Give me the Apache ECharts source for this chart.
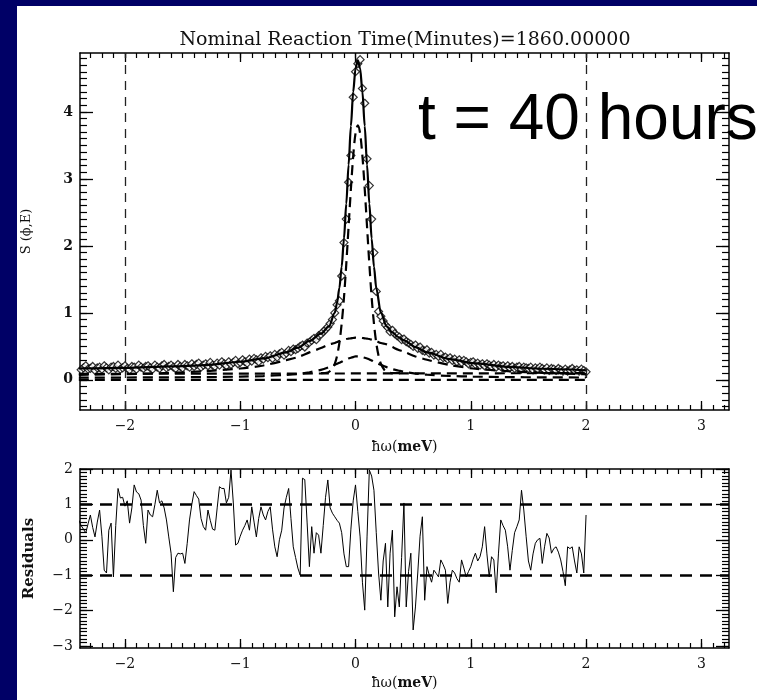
<!DOCTYPE html>
<html><head><meta charset="utf-8">
<script src="https://cdn.jsdelivr.net/npm/echarts@6/dist/echarts.min.js"></script>
<style>html,body{margin:0;padding:0;background:#000066}#c{width:757px;height:700px}</style>
</head><body><div id="c"></div>
<script>
// ---------- DATA ----------
const TITLE = 'Nominal Reaction Time(Minutes)=1860.00000';
const ANNOT = 't = 40 hours';
const X_MAJOR = [-2, -1, 0, 1, 2, 3];
const Y_TOP_MAJOR = [0, 1, 2, 3, 4];
const Y_BOT_MAJOR = [-3, -2, -1, 0, 1, 2];
const VLINES = [-2, 2];
const RES_LEVELS = [1, -1];

// energy bins of data / residuals: start and bin width (meV)
const E_START = -2.40, E_STEP = 0.02;

// measured S(phi,E) (diamonds)
const sData = [
 .19,.15,.18,.21,.16, .17,.20,.14,.18,.19, .16,.21,.18,.15,.19, .20,.17,.22,.16,.18,
 .21,.17,.15,.20,.19, .16,.22,.19,.17,.20, .21,.18,.16,.22,.19, .17,.21,.23,.18,.20,
 .22,.19,.17,.23,.20, .18,.23,.21,.19,.24, .20,.23,.25,.19,.22, .24,.21,.26,.22,.20,
 .25,.22,.27,.24,.21, .27,.23,.26,.29,.24, .26,.30,.27,.25,.31, .28,.32,.30,.27,.33,
 .31,.35,.33,.36,.32, .38,.34,.39,.41,.37, .40,.44,.42,.46,.45, .47,.50,.52,.49,.55,
 .56,.59,.62,.60,.66, .68,.72,.75,.79,.84,
 .90,1.00,1.12,1.18,1.55,2.05,2.40,2.95,3.35,4.22,4.60,4.72,4.78,4.35,4.13,3.30,2.90,2.40,1.90,1.32,1.02,.95,.88,.82,.78,.72,
 .74,.69,.66,.64,.60, .61,.57,.55,.53,.50, .52,.47,.49,.44,.43, .45,.40,.41,.37,.38,
 .35,.38,.33,.34,.31, .33,.29,.31,.27,.30, .26,.29,.27,.24,.26, .27,.23,.25,.22,.24,
 .21,.24,.22,.20,.23, .19,.22,.20,.21,.18, .21,.18,.20,.17,.19, .20,.16,.19,.18,.17,
 .19,.15,.18,.16,.19, .17,.15,.18,.14,.17, .16,.14,.17,.15,.13, .16,.13,.15,.17,.14,
 .15,.13,.16,.14,.12
];

// residuals
const resid = [
 0.55,0.40,0.30,0.19,0.45, 0.70,0.35,0.08,0.50,0.84, 0.10,-0.86,-0.94,0.27,0.47,
 -1.05,0.40,1.45,1.18,1.20, 0.95,1.10,0.47,0.90,1.55, 1.35,1.30,1.12,0.40,-0.10,
 0.84,0.70,0.65,1.00,1.40, 1.04,1.10,0.90,0.56,0.08, -0.38,-1.47,-0.50,-0.38,-0.40,
 -0.38,-0.67,-0.10,0.56,1.00, 1.36,1.25,1.15,0.60,0.37, 0.27,0.84,0.55,0.30,0.27,
 0.90,1.50,1.45,1.45,1.04, 1.20,1.97,1.04,-0.15,-0.10, 0.10,0.27,0.40,0.56,0.27,
 0.93,0.50,0.08,0.60,0.93, 0.70,0.56,0.80,0.93,0.30, -0.20,-0.48,0.00,0.27,0.90,
 1.20,1.45,0.60,-0.20,-0.50, -0.80,-1.00,1.74,1.70,0.50, -0.76,0.37,-0.38,0.20,0.13,
 -0.38,0.40,1.20,1.69,0.90, 0.75,0.65,0.55,0.47,0.20, -0.40,-0.76,-0.76,0.30,1.10,
 1.55,0.80,0.08,-1.20,-1.99, 0.08,1.97,1.80,1.40,0.20, -0.94,-1.71,-0.60,-0.10,-1.90,
 -0.38,0.27,-2.18,-1.33,-1.90, -0.50,1.04,-1.90,-0.90,-0.38, -2.55,-1.90,-0.94,0.10,0.65,
 -1.71,-0.76,-1.00,-1.20,-0.86, -0.95,-1.05,-0.57,-0.70,-0.86, -1.80,-1.20,-0.86,-0.94,-1.10,
 -1.20,-0.57,-0.80,-1.05,-0.90, -0.76,-0.55,-0.38,-0.60,-0.48, -0.20,0.37,-0.40,-1.05,-0.48,
 -0.57,-1.50,-0.40,0.56,0.40, 0.27,-0.20,-0.86,-0.30,0.20, 0.37,0.56,1.40,0.84,0.10,
 -0.60,-0.86,-0.40,-0.10,0.00, 0.04,-0.67,-0.20,0.18,0.05, -0.38,-0.25,-0.20,-0.35,-0.57,
 -0.90,-1.30,-0.20,-0.25,-0.20, -0.60,-0.94,-0.20,-0.40,-0.94, 0.70
];

// fit and component curves
const curveE = [-2.4,-2.0,-1.6,-1.3,-1.0,-0.8,-0.6,-0.5,-0.4,-0.3,-0.23,-0.18,-0.16,-0.14,-0.12,-0.10,-0.08,-0.06,-0.04,-0.02,0,0.02,0.04,0.06,0.08,0.10,0.12,0.14,0.16,0.18,0.22,0.27,0.32,0.37,0.42,0.52,0.62,0.82,1.02,1.32,1.62,2.0];
const fitTotal = [.17,.18,.20,.22,.27,.32,.41,.48,.58,.69,.80,1.00,1.15,1.37,1.69,2.11,2.63,3.21,3.79,4.30,4.65,4.77,4.65,4.30,3.79,3.21,2.63,2.11,1.69,1.37,1.00,.80,.71,.64,.59,.49,.41,.31,.25,.195,.166,.143];
const compBroad = [.075,.085,.105,.13,.17,.215,.295,.34,.41,.475,.53,.55,.565,.58,.59,.60,.61,.615,.62,.625,.63,.63,.63,.625,.62,.615,.61,.60,.59,.58,.55,.53,.49,.45,.42,.35,.30,.22,.17,.13,.105,.085];
const compMedium = [.033,.035,.038,.041,.048,.057,.075,.088,.114,.15,.19,.225,.24,.255,.27,.29,.305,.32,.33,.34,.35,.35,.35,.34,.33,.32,.305,.29,.27,.255,.225,.19,.16,.14,.12,.094,.077,.058,.049,.041,.038,.035];
const narrowE = [-0.30,-0.24,-0.20,-0.18,-0.16,-0.14,-0.12,-0.10,-0.08,-0.06,-0.04,-0.02,0,0.02,0.04,0.06,0.08,0.10,0.12,0.14,0.16,0.18,0.20,0.22,0.26,0.32,0.40];
const compNarrow = [.10,.11,.17,.24,.36,.55,.84,1.23,1.73,2.29,2.85,3.34,3.68,3.80,3.68,3.34,2.85,2.29,1.73,1.23,.84,.55,.36,.24,.13,.10,.10];
const bgE = [-2.4, 2.0];
const bgHigh = [0.09, 0.10];
const bgLow = [0.0, 0.0];

// ---------- CHART ----------
const X_MIN = -2.39, X_MAX = 3.24;
const YT_MIN = -0.45, YT_MAX = 4.88;
const YB_MIN = -3.06, YB_MAX = 2.0;

const dataE = sData.map((_, i) => +(E_START + i * E_STEP).toFixed(2));
const pairs = (xs, ys) => xs.map((x, i) => [x, ys[i]]);
const steps = (a, b, s) => { const r = []; for (let v = a; v <= b + 1e-9; v += s) r.push(Math.round(v * 10) / 10); return r; };
const fmt = v => v < 0 ? '\u2212' + (-v) : String(v);

const SERIF = '"DejaVu Serif", "Liberation Serif", serif';
const AX_LINE = { show: true, onZero: false, lineStyle: { color: '#000', width: 1.5 } };
const NO_LINE = { show: false, onZero: false };

function xAxesFor(gi, name, nameGap) {
  const base = { type: 'value', gridIndex: gi, min: X_MIN, max: X_MAX, splitLine: { show: false } };
  const minor = steps(-2.3, 3.2, 0.1);
  return [
    Object.assign({}, base, { position: 'bottom', axisLine: AX_LINE,
      axisTick: { show: true, inside: true, length: 9, customValues: X_MAJOR, lineStyle: { color: '#000', width: 1.3 } },
      axisLabel: { show: true, customValues: X_MAJOR, formatter: fmt, color: '#111', fontFamily: SERIF, fontSize: 14, margin: 9 },
      name: name, nameLocation: 'middle', nameGap: nameGap,
      nameTextStyle: { rich: { a: { fontFamily: SERIF, fontSize: 14, color: '#111' }, b: { fontFamily: SERIF, fontSize: 14, fontWeight: 'bold', color: '#111' } } } }),
    Object.assign({}, base, { position: 'bottom', axisLine: NO_LINE,
      axisTick: { show: true, inside: true, length: 5, customValues: minor, lineStyle: { color: '#000', width: 1.2 } },
      axisLabel: { show: false } }),
    Object.assign({}, base, { position: 'top', axisLine: AX_LINE,
      axisTick: { show: true, inside: true, length: 9, customValues: X_MAJOR, lineStyle: { color: '#000', width: 1.3 } },
      axisLabel: { show: false } }),
    Object.assign({}, base, { position: 'top', axisLine: NO_LINE,
      axisTick: { show: true, inside: true, length: 5, customValues: minor, lineStyle: { color: '#000', width: 1.2 } },
      axisLabel: { show: false } })
  ];
}
function yAxesFor(gi, min, max, major, minor, name, nameGap, nameStyle, bold) {
  const base = { type: 'value', gridIndex: gi, min: min, max: max, splitLine: { show: false } };
  return [
    Object.assign({}, base, { position: 'left', axisLine: AX_LINE,
      axisTick: { show: true, inside: true, length: 13, customValues: major, lineStyle: { color: '#000', width: 1.3 } },
      axisLabel: { show: true, customValues: major, formatter: fmt, color: '#111', fontFamily: SERIF, fontSize: 14, fontWeight: bold ? 'bold' : 'normal', margin: 7 },
      name: name, nameLocation: 'middle', nameGap: nameGap, nameTextStyle: nameStyle }),
    Object.assign({}, base, { position: 'left', axisLine: NO_LINE,
      axisTick: { show: true, inside: true, length: 7, customValues: minor, lineStyle: { color: '#000', width: 1.2 } },
      axisLabel: { show: false } }),
    Object.assign({}, base, { position: 'right', axisLine: AX_LINE,
      axisTick: { show: true, inside: true, length: 13, customValues: major, lineStyle: { color: '#000', width: 1.3 } },
      axisLabel: { show: false } }),
    Object.assign({}, base, { position: 'right', axisLine: NO_LINE,
      axisTick: { show: true, inside: true, length: 7, customValues: minor, lineStyle: { color: '#000', width: 1.2 } },
      axisLabel: { show: false } })
  ];
}

const xName = '{a|\u0127\u03c9(}{b|meV}{a|)}';
const dashed = { type: [10, 6], color: '#000', width: 2.2 };

const option = {
  backgroundColor: '#000066',
  animation: false,
  graphic: [
    { type: 'rect', z: -10, shape: { x: 17, y: 6, width: 740, height: 694 }, style: { fill: '#ffffff' } },
    { type: 'text', z: 50, style: { text: TITLE, x: 405, y: 40, align: 'center', verticalAlign: 'middle', font: '19px "DejaVu Serif", serif', fill: '#111' } },
    { type: 'text', z: 50, style: { text: ANNOT, x: 418, y: 121, align: 'left', verticalAlign: 'middle', font: '64px "Liberation Sans", Arial, sans-serif', fill: '#000' } }
  ],
  grid: [
    { left: 80, top: 53, width: 649, height: 357 },
    { left: 80, top: 469, width: 649, height: 179 }
  ],
  xAxis: xAxesFor(0, xName, 30).concat(xAxesFor(1, xName, 28)),
  yAxis: yAxesFor(0, YT_MIN, YT_MAX, Y_TOP_MAJOR, steps(-0.4, 4.8, 0.1), 'S (\u03d5,E)', 47,
            { fontFamily: SERIF, fontSize: 13, color: '#111' }, true)
    .concat(yAxesFor(1, YB_MIN, YB_MAX, Y_BOT_MAJOR, steps(-3.0, 2.0, 0.1), 'Residuals', 43,
            { fontFamily: SERIF, fontSize: 15, fontWeight: 'bold', color: '#111' }, false)),
  series: [
    { type: 'line', xAxisIndex: 0, yAxisIndex: 0, data: pairs(bgE, bgLow), symbol: 'none', lineStyle: dashed },
    { type: 'line', xAxisIndex: 0, yAxisIndex: 0, data: pairs(bgE, bgHigh), symbol: 'none', lineStyle: dashed },
    { type: 'line', xAxisIndex: 0, yAxisIndex: 0, data: pairs(curveE, compMedium), symbol: 'none', smooth: 0.3, lineStyle: dashed },
    { type: 'line', xAxisIndex: 0, yAxisIndex: 0, data: pairs(curveE, compBroad), symbol: 'none', smooth: 0.3, lineStyle: dashed },
    { type: 'line', xAxisIndex: 0, yAxisIndex: 0, data: pairs(narrowE, compNarrow), symbol: 'none', smooth: 0.3, lineStyle: dashed },
    { type: 'line', xAxisIndex: 0, yAxisIndex: 0, data: pairs(curveE, fitTotal), symbol: 'none', smooth: 0.3, smoothMonotone: 'x', lineStyle: { color: '#000', width: 2.2 } },
    { type: 'scatter', xAxisIndex: 0, yAxisIndex: 0, data: pairs(dataE, sData), symbol: 'diamond', symbolSize: 8,
      itemStyle: { color: '#fff', borderColor: '#000', borderWidth: 1.2 },
      markLine: { silent: true, symbol: ['none', 'none'], label: { show: false },
        lineStyle: { type: [9, 7], color: '#222', width: 1.3 }, data: VLINES.map(v => ({ xAxis: v })) } },
    { type: 'line', xAxisIndex: 4, yAxisIndex: 4, data: pairs(dataE, resid), symbol: 'none', lineStyle: { color: '#000', width: 1 },
      markLine: { silent: true, symbol: ['none', 'none'], label: { show: false },
        lineStyle: { type: [12, 8], color: '#000', width: 2.5 }, data: RES_LEVELS.map(v => ({ yAxis: v })) } }
  ]
};
const chart = echarts.init(document.getElementById('c'), null, { renderer: 'canvas' });
chart.setOption(option);
</script></body></html>
